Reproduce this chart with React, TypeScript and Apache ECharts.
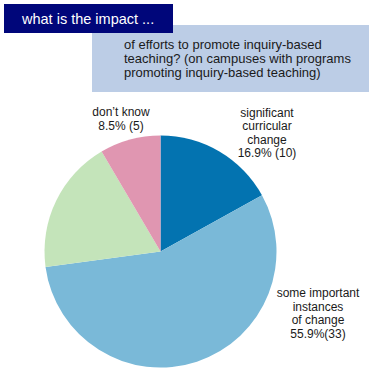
import React, { useEffect, useRef } from "react";
import * as echarts from "echarts";

const categories = [
  "significant\ncurricular\nchange",
  "some important\ninstances\nof change",
  "limited or\nno effect",
  "don\u2019t know",
];
const counts = [10, 33, 11, 5];
const countSeparators = [" ", "", " ", " "];
const sliceColors = ["#0373b0", "#7ab9d8", "#c4e4ba", "#e096b1"];
const headerTitle = "what is the impact ...";
const headerSubtitle = [
  "of efforts to promote inquiry-based",
  "teaching? (on campuses with programs",
  "promoting inquiry-based teaching)",
];

const labelPositions = [
  { x: 267, y: 133 },
  { x: 318, y: 313.5 },
  { x: 32, y: 161.5 },
  { x: 121, y: 119 },
];

export default function App() {
  const ref = useRef<HTMLDivElement>(null);
  useEffect(() => {
    document.body.style.margin = "0";
    const chart = echarts.init(ref.current!, null, { renderer: "svg" });
    const total = counts.reduce((a, b) => a + b, 0);
    const font = "'Liberation Sans', Arial, Helvetica, sans-serif";
    chart.setOption({
      animation: false,
      backgroundColor: "#ffffff",
      graphic: [
        {
          type: "rect",
          shape: { x: 92, y: 25, width: 277, height: 67 },
          style: { fill: "#bccde6" },
          z: 1,
        },
        {
          type: "rect",
          shape: { x: 4, y: 4, width: 169, height: 29 },
          style: { fill: "#00067a" },
          z: 2,
        },
        {
          type: "text",
          x: 22,
          y: 19,
          style: {
            text: headerTitle,
            fill: "#ffffff",
            font: `14.5px ${font}`,
            verticalAlign: "middle",
          },
          z: 3,
        },
        {
          type: "text",
          x: 124,
          y: 58,
          style: {
            text: headerSubtitle.join("\n"),
            fill: "#1a1a1a",
            font: `13px ${font}`,
            lineHeight: 14,
            verticalAlign: "middle",
          },
          z: 3,
        },
      ],
      series: [
        {
          type: "pie",
          center: [160.5, 251.5],
          radius: 116,
          startAngle: 90,
          clockwise: true,
          silent: true,
          itemStyle: { borderWidth: 0 },
          labelLine: { show: false },
          label: {
            show: true,
            position: "outside",
            color: "#1a1a1a",
            fontFamily: font,
            fontSize: 12,
            lineHeight: 13.5,
            align: "center",
            formatter: (p: any) =>
              `${p.name}\n${((p.value / total) * 100).toFixed(1)}%${countSeparators[p.dataIndex]}(${p.value})`,
          },
          labelLayout: (params: any) => {
            const pos = labelPositions[params.dataIndex];
            return { x: pos.x, y: pos.y, align: "center", verticalAlign: "middle" };
          },
          data: categories.map((name, i) => ({
            name,
            value: counts[i],
            itemStyle: { color: sliceColors[i] },
          })),
        },
      ],
    });
    return () => chart.dispose();
  }, []);
  return (
    <div
      ref={ref}
      style={{ position: "fixed", left: 0, top: 0, width: 373, height: 375 }}
    />
  );
}
